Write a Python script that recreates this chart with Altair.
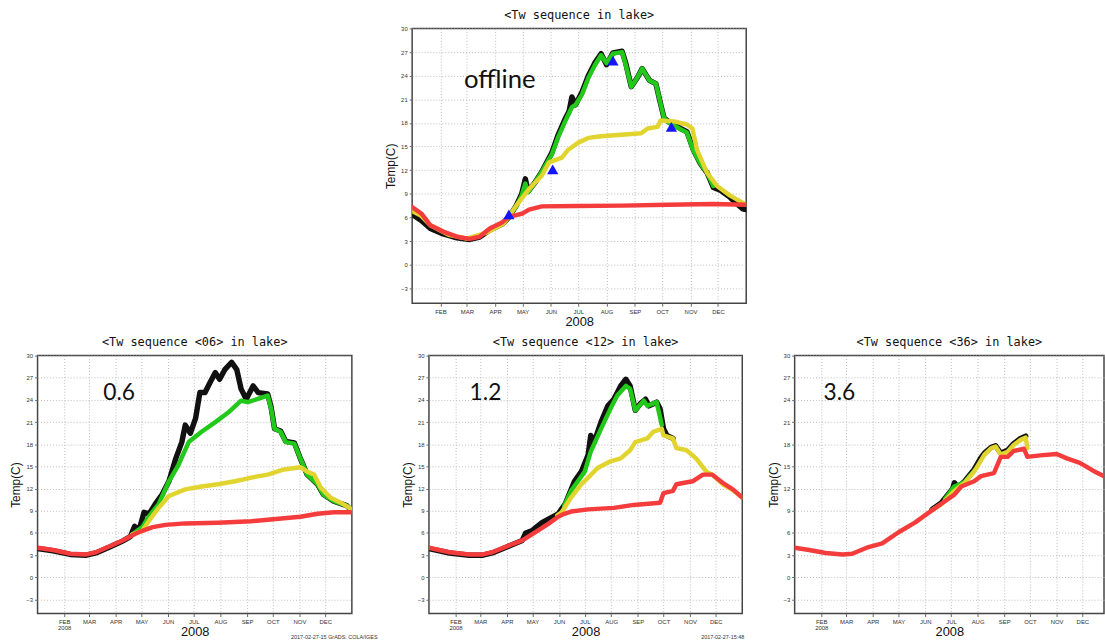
import altair as alt
import pandas as pd

# ---------------- data (day of 2008, 0 = Jan 1) ----------------
MONTH_STARTS = [31, 60, 91, 121, 152, 182, 213, 244, 274, 305, 335]
MONTH_NAMES = ["FEB", "MAR", "APR", "MAY", "JUN", "JUL", "AUG", "SEP", "OCT", "NOV", "DEC"]
Y_TICKS = [-3, 0, 3, 6, 9, 12, 15, 18, 21, 24, 27, 30]

# --- offline (top) ---
off_black_d = [0, 10, 20, 34, 49, 63, 74, 85, 99, 106, 114, 120, 124, 127, 135, 142, 153, 160, 168, 172, 175, 179,
               186, 193, 200, 207, 213, 220, 230, 234, 240, 247, 252, 260, 267, 272, 276, 283, 294, 301, 308, 316,
               323, 330, 337, 348, 355, 362, 366]
off_black_v = [6.4, 5.6, 4.6, 3.9, 3.4, 3.2, 3.5, 4.4, 5.2, 6.0, 7.5, 9.0, 10.9, 9.3, 10.5, 11.8, 14.2, 16.5, 18.6,
               19.5, 21.3, 20.3, 21.9, 24.0, 25.6, 26.8, 25.4, 26.9, 27.1, 25.6, 22.6, 23.8, 24.9, 23.4, 23.0, 20.5,
               18.6, 18.0, 17.3, 16.9, 14.6, 12.8, 11.7, 9.8, 9.5, 8.6, 7.8, 7.1, 7.0]
off_green_d = [106, 114, 120, 124, 127, 135, 142, 153, 160, 168, 175, 179, 186, 193, 200, 207, 213, 220, 230, 234,
               240, 247, 252, 260, 267, 272, 276, 283, 294, 301, 308, 316, 323, 330]
off_green_v = [6.2, 7.4, 8.8, 10.3, 9.2, 10.5, 11.8, 14.0, 16.2, 18.3, 20.0, 20.3, 21.6, 23.7, 25.3, 26.6, 25.6,
               26.8, 27.0, 25.4, 22.6, 23.8, 24.9, 23.4, 23.0, 20.5, 18.6, 17.9, 17.2, 16.8, 14.5, 12.8, 11.7, 10.0]
off_yellow_d = [0, 10, 20, 40, 60, 80, 100, 106, 114, 128, 142, 150, 164, 171, 182, 193, 207, 229, 251, 258, 269,
                272, 287, 301, 307, 312, 323, 334, 348, 366]
off_yellow_v = [6.8, 6.2, 5.0, 3.8, 3.3, 4.0, 5.2, 6.1, 7.5, 9.6, 11.3, 13.0, 13.6, 14.6, 15.5, 16.1, 16.3, 16.5,
                16.7, 17.3, 17.5, 18.3, 18.2, 17.8, 17.3, 14.6, 11.7, 10.0, 8.8, 7.6]
off_red_d = [0, 10, 20, 34, 49, 63, 74, 85, 99, 106, 114, 121, 128, 142, 180, 230, 280, 330, 366]
off_red_v = [7.3, 6.5, 5.0, 4.2, 3.55, 3.27, 3.55, 4.6, 5.4, 6.1, 6.3, 6.5, 7.0, 7.4, 7.45, 7.5, 7.6, 7.7, 7.6]
off_tri_d = [106, 154, 220, 284]
off_tri_v = [6.4, 12.1, 25.9, 17.5]

# --- 0.6 ---
p06_black_d = [0, 18, 38, 57, 68, 84, 99, 108, 113, 118, 124, 130, 137, 145, 153, 161, 168, 172, 178, 184, 189, 195,
               201, 207, 212, 218, 226, 232, 237, 243, 251, 257, 268, 272, 276, 283, 289, 299, 306, 314, 326, 333,
               345, 360, 366]
p06_black_v = [3.9, 3.6, 3.1, 3.0, 3.3, 4.1, 4.9, 5.5, 6.9, 6.3, 8.8, 8.6, 9.9, 11.2, 13.0, 16.1, 18.3, 20.6, 19.5,
               21.5, 25.0, 25.0, 26.4, 27.7, 26.8, 28.1, 29.1, 28.1, 25.5, 24.1, 25.9, 25.0, 24.8, 23.0, 20.1, 19.8,
               18.4, 18.2, 16.1, 13.9, 12.6, 11.2, 10.3, 9.7, 9.0]
p06_green_d = [110, 122, 130, 141, 153, 164, 176, 191, 207, 222, 237, 245, 268, 272, 276, 283, 289, 299, 306, 314,
               326, 333, 345, 360, 366]
p06_green_v = [5.8, 6.8, 8.3, 9.9, 13.0, 15.2, 18.3, 19.7, 21.0, 22.3, 23.9, 23.7, 24.6, 22.8, 20.1, 19.7, 18.3,
               18.1, 16.1, 13.9, 12.6, 11.2, 10.3, 9.7, 9.0]
p06_yellow_d = [110, 122, 130, 141, 153, 172, 191, 210, 230, 249, 268, 287, 306, 314, 322, 330, 341, 353, 366]
p06_yellow_v = [5.8, 6.3, 7.7, 9.4, 11.0, 11.9, 12.3, 12.6, 13.0, 13.5, 13.9, 14.6, 14.9, 14.3, 13.9, 12.1, 10.8,
                10.1, 9.2]
p06_red_d = [0, 18, 38, 57, 68, 84, 99, 114, 122, 134, 149, 172, 210, 249, 268, 287, 306, 326, 345, 366]
p06_red_v = [4.0, 3.7, 3.2, 3.1, 3.4, 4.2, 5.0, 5.9, 6.3, 6.8, 7.1, 7.3, 7.4, 7.6, 7.8, 8.0, 8.2, 8.6, 8.8, 8.8]

# --- 1.2 ---
p12_black_d = [0, 24, 47, 63, 74, 93, 109, 113, 120, 132, 151, 159, 170, 178, 186, 189, 193, 201, 209, 216, 224, 230,
               235, 241, 247, 253, 257, 266, 270, 274, 278, 285]
p12_black_v = [3.9, 3.3, 3.0, 3.0, 3.3, 4.2, 5.0, 6.0, 6.3, 7.4, 8.6, 9.9, 13.0, 14.3, 16.6, 19.2, 18.3, 21.0, 23.2,
               24.1, 25.9, 26.8, 25.9, 22.6, 23.5, 24.1, 23.2, 23.7, 22.8, 20.1, 19.2, 18.8]
p12_green_d = [158, 166, 174, 182, 189, 201, 212, 220, 230, 235, 241, 251, 255, 266, 272]
p12_green_v = [9.7, 11.7, 13.0, 14.3, 17.0, 20.1, 22.8, 24.6, 25.9, 25.5, 22.6, 23.9, 23.2, 23.7, 20.6]
p12_yellow_d = [150, 155, 166, 178, 186, 197, 212, 224, 235, 241, 255, 262, 272, 274, 285, 289, 301, 312, 324, 331,
                343, 355, 366]
p12_yellow_v = [8.4, 8.8, 10.8, 12.6, 13.5, 14.8, 15.7, 16.1, 17.2, 18.3, 18.8, 19.7, 20.1, 19.2, 18.8, 17.5, 17.2,
                16.1, 14.3, 13.9, 12.6, 11.8, 10.8]
p12_red_d = [0, 24, 47, 63, 74, 93, 109, 124, 139, 151, 158, 166, 186, 216, 239, 270, 274, 285, 289, 308, 320, 331,
             343, 355, 366]
p12_red_v = [4.0, 3.4, 3.1, 3.1, 3.4, 4.3, 5.0, 6.1, 7.2, 8.2, 8.6, 8.9, 9.2, 9.4, 9.8, 10.1, 11.4, 11.7, 12.6, 13.0,
             13.9, 13.9, 12.8, 11.9, 10.8]

# --- 3.6 ---
p36_black_d = [160, 171, 184, 186, 190, 198, 209, 217, 221, 229, 234, 240, 248, 255, 263, 269]
p36_black_v = [9.2, 10.1, 12.0, 12.8, 12.2, 13.0, 14.6, 16.2, 16.8, 17.6, 17.8, 16.8, 17.2, 18.1, 18.8, 19.1]
p36_green_d = [175, 186, 198, 209]
p36_green_v = [10.6, 12.3, 12.9, 14.4]
p36_yellow_d = [160, 171, 186, 198, 209, 221, 229, 234, 240, 248, 255, 263, 269, 271]
p36_yellow_v = [9.1, 9.9, 11.7, 12.8, 14.3, 16.6, 17.5, 17.7, 16.6, 17.0, 17.9, 18.6, 18.9, 17.5]
p36_red_d = [0, 17, 36, 56, 67, 86, 102, 121, 140, 159, 175, 186, 194, 209, 217, 232, 236, 240, 248, 255, 267, 271,
             286, 305, 317, 332, 348, 363, 366]
p36_red_v = [4.0, 3.7, 3.3, 3.1, 3.2, 4.1, 4.6, 6.1, 7.4, 9.0, 10.3, 11.2, 12.3, 13.0, 13.7, 14.1, 15.2, 16.3, 16.3,
             17.1, 17.4, 16.3, 16.5, 16.7, 16.1, 15.5, 14.4, 13.5, 13.4]

TITLES = ["<Tw sequence in lake>", "<Tw sequence <06> in lake>",
          "<Tw sequence <12> in lake>", "<Tw sequence <36> in lake>"]
LABELS = ["offline", "0.6", "1.2", "3.6"]
LABEL_POS = [(96, 23.4), (95, 24.9), (66, 24.9), (52, 24.9)]
FOOTERS = ["2017-02-27-15 GrADS: COLA/IGES", "2017-02-27-15:48"]

COLORS = {"obs": "#111111", "green": "#22c81a", "yellow": "#e2d42e", "red": "#f53c3c"}

month_arr = "[" + ",".join(str(d) for d in MONTH_STARTS) + "]"
name_arr = "[" + ",".join("'" + n + "'" for n in MONTH_NAMES) + "]"


def make_panel(series, title, label, label_pos, width, height, xmax, feb_year, tri=None, footer=None,
               footer_x=None):
    if feb_year:
        lexpr = f"datum.value == 31 ? ['FEB','2008'] : {name_arr}[indexof({month_arr}, datum.value)]"
    else:
        lexpr = f"{name_arr}[indexof({month_arr}, datum.value)]"
    xenc = alt.X("day:Q", scale=alt.Scale(domain=[0, xmax], nice=False, zero=False),
                 axis=alt.Axis(values=MONTH_STARTS, labelExpr=lexpr, title="2008", grid=True,
                               labelLineHeight=6, titleY=12 if feb_year else 13,
                               titleBaseline="top"))
    yenc = alt.Y("temp:Q", scale=alt.Scale(domain=[-4.9, 30], nice=False, zero=False),
                 axis=alt.Axis(values=Y_TICKS, title="Temp(C)", grid=True))
    layers = []
    for key, (d, v), w in series:
        df = pd.DataFrame({"day": d, "temp": v})
        layers.append(alt.Chart(df).mark_line(color=COLORS[key], strokeWidth=w, clip=True,
                                              strokeJoin="round", strokeCap="round")
                      .encode(x=xenc, y=yenc))
    if tri is not None:
        tdf = pd.DataFrame({"day": tri[0], "temp": tri[1]})
        layers.append(alt.Chart(tdf).mark_point(shape="triangle-up", filled=True, color="#1414ff",
                                                opacity=1, size=130).encode(x=xenc, y=yenc))
    ldf = pd.DataFrame({"day": [label_pos[0]], "temp": [label_pos[1]], "t": [label]})
    layers.append(alt.Chart(ldf).mark_text(font="Lato", fontSize=26 if label == "offline" else 23,
                                           color="#111", align="center", baseline="middle")
                  .encode(x=xenc, y=yenc, text="t:N"))
    if footer is not None:
        fdf = pd.DataFrame({"t": [footer]})
        layers.append(alt.Chart(fdf).mark_text(font="Liberation Sans", fontSize=5.5, color="#333",
                                               align="right", baseline="middle")
                      .encode(x=alt.value(footer_x), y=alt.value(height + 24), text="t:N"))
    return alt.layer(*layers).properties(width=width, height=height,
                                         title=alt.TitleParams(title, anchor="middle"))


top = make_panel([("obs", (off_black_d, off_black_v), 5.5), ("green", (off_green_d, off_green_v), 4.5),
                  ("yellow", (off_yellow_d, off_yellow_v), 4.5), ("red", (off_red_d, off_red_v), 4.5)],
                 TITLES[0], LABELS[0], LABEL_POS[0], 338, 278, 366, False, tri=(off_tri_d, off_tri_v))
p1 = make_panel([("obs", (p06_black_d, p06_black_v), 5.5), ("green", (p06_green_d, p06_green_v), 4.5),
                 ("yellow", (p06_yellow_d, p06_yellow_v), 4.5), ("red", (p06_red_d, p06_red_v), 4.5)],
                TITLES[1], LABELS[1], LABEL_POS[1], 318, 261, 366, True, footer=FOOTERS[0], footer_x=344)
p2 = make_panel([("obs", (p12_black_d, p12_black_v), 5.5), ("green", (p12_green_d, p12_green_v), 4.5),
                 ("yellow", (p12_yellow_d, p12_yellow_v), 4.5), ("red", (p12_red_d, p12_red_v), 4.5)],
                TITLES[2], LABELS[2], LABEL_POS[2], 317, 261, 366, True, footer=FOOTERS[1], footer_x=319)
p3 = make_panel([("obs", (p36_black_d, p36_black_v), 5.5), ("green", (p36_green_d, p36_green_v), 4.5),
                 ("yellow", (p36_yellow_d, p36_yellow_v), 4.5), ("red", (p36_red_d, p36_red_v), 4.5)],
                TITLES[3], LABELS[3], LABEL_POS[3], 313, 261, 360.2, True)

spacer = alt.Chart(pd.DataFrame({"d": [0]})).mark_point(opacity=0).encode(
    x=alt.X("d:Q", axis=None), y=alt.Y("d:Q", axis=None)
).properties(width=350, height=1, view=alt.ViewBackground(stroke=None))

top_row = alt.hconcat(spacer, top, spacing=0)
bottom_row = alt.hconcat(alt.hconcat(p1, p2, spacing=22), p3, spacing=21)

chart = alt.vconcat(top_row, bottom_row, spacing=5).properties(
    padding={"left": 9, "top": 4, "right": 0, "bottom": 0}, background="white"
).configure_view(stroke="#444", strokeWidth=1.5).configure_axis(
    labelFont="Liberation Sans", labelFontSize=6, labelColor="#333", tickColor="#666", tickSize=3,
    labelPadding=2, domain=False, gridColor="#bbb", gridDash=[1, 2], gridWidth=1,
    titleFont="Liberation Sans", titleFontWeight="normal", titleColor="#111"
).configure_axisX(titleFontSize=13).configure_axisY(titleFontSize=12, titlePadding=3
).configure_title(font="DejaVu Sans Mono", fontSize=12, fontWeight="normal", color="#111", offset=4)

chart.save("out.html", embed_options={"renderer": "svg", "actions": False})
